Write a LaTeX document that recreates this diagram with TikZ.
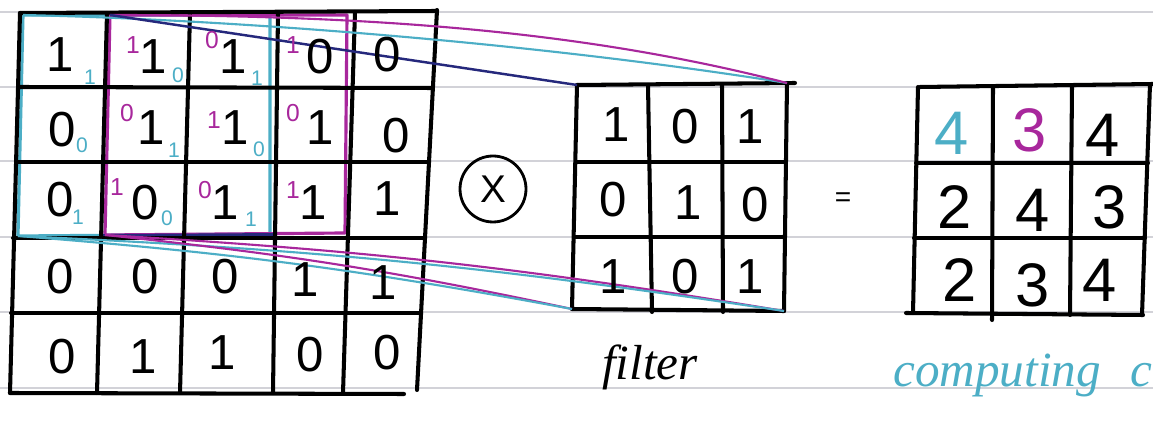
\documentclass[tikz,border=0pt]{standalone}
\usepackage{fontspec}
\setmainfont{Liberation Sans}
\newfontfamily\handfont{Liberation Serif}
\definecolor{cyanpen}{HTML}{4CAEC6}
\definecolor{magpen}{HTML}{A8279C}
\definecolor{navypen}{HTML}{25287C}
\definecolor{ruleline}{HTML}{D2D2D8}
\begin{document}
\begin{tikzpicture}[x=0.02cm, y=-0.02cm,
  gridline/.style={line width=2.3pt, line cap=round, black},
  ruled/.style={ruleline, line width=0.6pt},
  digit/.style={inner sep=0pt, font=\fontsize{28}{28}\selectfont},
  outdigit/.style={inner sep=0pt, font=\fontsize{35}{35}\selectfont},
  subw/.style={inner sep=0pt, text=cyanpen, font=\fontsize{12}{12}\selectfont},
  supw/.style={inner sep=0pt, text=magpen, font=\fontsize{14}{14}\selectfont},
  cyanbox/.style={cyanpen, line width=1.8pt, line join=round},
  magbox/.style={magpen, line width=1.8pt, line join=round},
  cyanlink/.style={cyanpen, line width=1.2pt},
  maglink/.style={magpen, line width=1.2pt},
  navylink/.style={navypen, line width=1.4pt},
  handtext/.style={inner sep=0pt, font=\handfont\itshape\fontsize{28}{28}\selectfont}]
\fill[white] (0,0) rectangle (1153,428);
\useasboundingbox (0,0) rectangle (1153,428);
% notebook rules
\foreach \yy in {12,87,161,237,312,388} \draw[ruled] (0,\yy) -- (1153,\yy);

% corner coordinates
\coordinate (cTL) at (23,15);
\coordinate (cTR) at (270,15);
\coordinate (cBR) at (270,234);
\coordinate (cBL) at (18,236);
\coordinate (mTL) at (110,15);
\coordinate (mTR) at (347,15);
\coordinate (mBR) at (345,233);
\coordinate (mBL) at (105,235);
\coordinate (nA) at (100,236);
\coordinate (nB) at (275,235);
\coordinate (fTL) at (577,85);
\coordinate (fTR) at (787,83);
\coordinate (fBL) at (572,309);
\coordinate (fBR) at (784,311);

% coloured windows
\draw[cyanbox] (cTL) -- (cTR) -- (cBR) -- (cBL) -- cycle;
\draw[magbox] (mTL) -- (mTR) -- (mBR) -- (mBL) -- cycle;
\draw[navypen, line width=2.2pt] (nA) -- (nB);

% input grid
\draw[gridline] (20,13) -- (10,393);
\draw[gridline] (107,13) -- (97,393);
\draw[gridline] (190,13) -- (180,393);
\draw[gridline] (278,13) -- (273,393);
\draw[gridline] (355,12) -- (343,393);
\draw[gridline] (437,10) -- (417,390);
\draw[gridline] (20,13) -- (437,11);
\draw[gridline] (18,87) -- (433,88);
\draw[gridline] (16,162) -- (429,162);
\draw[gridline] (13,238) -- (425,238);
\draw[gridline] (11,313) -- (421,313);
\draw[gridline] (10,393) -- (404,394);

% filter grid
\draw[gridline] (fTL) -- (fBL);
\draw[gridline] (648,85) -- (652,312);
\draw[gridline] (722,85) -- (723,312);
\draw[gridline] (fTR) -- (fBR);
\draw[gridline] (fTL) -- (795,83);
\draw[gridline] (576,162) -- (786,162);
\draw[gridline] (574,237) -- (785,237);
\draw[gridline] (fBL) -- (fBR);

% output grid
\draw[gridline] (918,87) -- (913,313);
\draw[gridline] (993,87) -- (992,320);
\draw[gridline] (1072,86) -- (1070,315);
\draw[gridline] (1150,84) -- (1142,315);
\draw[gridline] (920,87) -- (1153,84);
\draw[gridline] (916,163) -- (1148,163);
\draw[gridline] (914,238) -- (1145,238);
\draw[gridline] (906,313) -- (1143,315);

% connectors
\draw[cyanlink] (cTL) .. controls (250,20) and (550,45) .. (fTR);
\draw[maglink] (mTL) .. controls (400,15) and (600,35) .. (fTR);
\draw[navylink] (mTL) -- (fTL);
\draw[maglink] (mBL) to[bend left=3] (fBR);
\draw[cyanlink] (cBL) to[bend left=3] (fBR);
\draw[maglink] (mBL) to[bend left=3] (fBL);
\draw[cyanlink] (cBL) to[bend left=3] (fBL);

% input values
\node[digit] (i11) at (60,55) {1};
\node[digit] (i12) at (153,57) {1};
\node[digit] (i13) at (233,57) {1};
\node[digit] (i14) at (320,57) {0};
\node[digit] (i15) at (387,55) {0};
\node[digit] (i21) at (62,130) {0};
\node[digit] (i22) at (151,128) {1};
\node[digit] (i23) at (235,128) {1};
\node[digit] (i24) at (320,128) {1};
\node[digit] (i25) at (396,136) {0};
\node[digit] (i31) at (60,200) {0};
\node[digit] (i32) at (145,203) {0};
\node[digit] (i33) at (225,203) {1};
\node[digit] (i34) at (313,203) {1};
\node[digit] (i35) at (387,199) {1};
\node[digit] (i41) at (60,277) {0};
\node[digit] (i42) at (145,277) {0};
\node[digit] (i43) at (225,277) {0};
\node[digit] (i44) at (305,280) {1};
\node[digit] (i45) at (383,283) {1};
\node[digit] (i51) at (62,357) {0};
\node[digit] (i52) at (143,357) {1};
\node[digit] (i53) at (222,353) {1};
\node[digit] (i54) at (310,355) {0};
\node[digit] (i55) at (387,353) {0};

% cyan filter weights (first window)
\node[subw] (s11) at (90,77) {1};
\node[subw] (s12) at (178,75) {0};
\node[subw] (s13) at (257,78) {1};
\node[subw] (s21) at (82,145) {0};
\node[subw] (s22) at (174,150) {1};
\node[subw] (s23) at (259,149) {0};
\node[subw] (s31) at (78,217) {1};
\node[subw] (s32) at (167,218) {0};
\node[subw] (s33) at (251,219) {1};

% magenta filter weights (second window)
\node[supw] (p12) at (133,45) {1};
\node[supw] (p13) at (212,40) {0};
\node[supw] (p14) at (293,45) {1};
\node[supw] (p22) at (127,113) {0};
\node[supw] (p23) at (214,120) {1};
\node[supw] (p24) at (293,113) {0};
\node[supw] (p32) at (117,187) {1};
\node[supw] (p33) at (205,190) {0};
\node[supw] (p34) at (293,190) {1};

% multiplication sign
\node[draw, circle, line width=1.6pt, minimum size=1.32cm, inner sep=0pt,
      font=\fontsize{22}{22}\selectfont] (times) at (493,189) {X};

% filter values
\node[digit] (f11) at (616,125) {1};
\node[digit] (f12) at (685,127) {0};
\node[digit] (f13) at (750,127) {1};
\node[digit] (f21) at (613,200) {0};
\node[digit] (f22) at (688,203) {1};
\node[digit] (f23) at (755,205) {0};
\node[digit] (f31) at (613,277) {1};
\node[digit] (f32) at (685,277) {0};
\node[digit] (f33) at (750,277) {1};
\node[handtext, anchor=base] (flab) at (650,380) {filter};

% equals
\node[inner sep=0pt, font=\fontsize{16}{16}\selectfont] (eq) at (843,200) {=};

% output values
\node[outdigit, text=cyanpen] (o11) at (952,133) {4};
\node[outdigit, text=magpen] (o12) at (1030,130) {3};
\node[outdigit] (o13) at (1103,135) {4};
\node[outdigit] (o21) at (955,207) {2};
\node[outdigit] (o22) at (1033,210) {4};
\node[outdigit] (o23) at (1110,207) {3};
\node[outdigit] (o31) at (960,280) {2};
\node[outdigit] (o32) at (1033,285) {3};
\node[outdigit] (o33) at (1100,280) {4};

% caption
\node[handtext, text=cyanpen, anchor=base west] (cap) at (893,387) {computing};
\node[handtext, text=cyanpen, anchor=base west] (cap2) at (1130,387) {c};
\end{tikzpicture}
\end{document}
